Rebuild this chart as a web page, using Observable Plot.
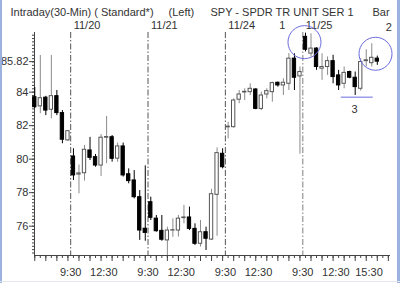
<!DOCTYPE html>
<html>
<head>
<meta charset="utf-8">
<script src="https://cdn.jsdelivr.net/npm/d3@7"></script>
<script src="https://cdn.jsdelivr.net/npm/@observablehq/plot@0.6"></script>
<style>
  html, body { margin: 0; padding: 0; background: #fff; }
  #wrap { position: relative; width: 400px; height: 283px; overflow: hidden; }
  #wrap svg { display: block; }
  #wrap .bl { position: absolute; left: 0; top: 0; bottom: 0; width: 2px; background: #9cb2de; }
  #wrap .br { position: absolute; right: 0; top: 0; bottom: 0; width: 3px; background: #9cb2de; }
  #wrap .bb { position: absolute; left: 0; right: 0; bottom: 1px; height: 1px; background: #e3e6ec; }
</style>
</head>
<body>
<div id="wrap"><div class="bl"></div><div class="br"></div><div class="bb"></div></div>
<script>
// ---- data (30-min bars, SPY) ----
const opens  = [83.70,83.15,83.67,82.95,83.76,82.75,81.12,
  80.16,79.08,79.16,80.52,80.12,79.62,81.28,81.31,80.03,80.76,79.10,78.73,77.73,75.85,
  77.43,76.45,75.72,75.15,75.74,75.74,76.48,76.52,75.84,74.95,75.64,75.20,77.87,80.32,
  81.90,81.91,83.55,83.98,84.00,84.16,83.00,83.86,84.00,84.56,84.40,84.50,86.00,84.94,
  87.30,86.30,86.60,85.40,85.50,85.85,85.00,84.50,85.20,84.86,84.20,85.85,85.73,86.00];
const highs  = [84.28,86.19,83.75,86.19,84.10,82.90,81.72,
  80.62,79.65,80.82,81.30,80.28,81.47,82.55,81.41,80.96,80.96,79.42,79.32,78.13,79.60,
  77.73,76.64,76.64,75.94,76.44,76.64,77.24,77.14,76.14,76.34,75.94,78.20,80.67,80.62,
  82.20,83.60,84.10,84.20,84.50,84.20,84.00,84.20,84.60,84.60,84.80,86.30,86.29,85.50,
  87.52,87.48,86.65,86.29,86.10,86.20,85.30,85.50,85.25,85.20,86.00,86.53,86.89,86.15];
const lows   = [83.03,82.71,82.60,82.41,82.60,80.92,81.05,
  78.72,77.93,78.69,79.92,79.52,78.97,79.73,79.82,79.82,78.93,78.53,77.63,75.15,75.10,
  76.34,75.64,75.10,74.25,75.34,75.35,76.14,75.74,74.85,74.75,74.55,75.14,75.40,79.42,
  81.21,81.85,83.31,83.50,83.80,82.95,82.90,83.60,83.40,84.30,83.80,84.10,84.10,80.30,
  86.40,86.10,85.30,84.70,85.00,84.50,84.10,84.20,84.80,83.80,84.06,85.50,85.50,85.60];
const closes = [83.10,83.64,82.90,83.76,82.75,81.16,81.67,
  79.03,79.15,80.56,80.08,79.62,81.28,81.32,80.02,80.76,79.03,78.69,77.73,75.74,75.60,
  76.50,75.70,75.19,75.74,75.76,76.45,76.52,75.84,74.95,75.64,75.25,77.91,80.36,79.52,
  81.94,83.50,83.86,84.02,84.20,83.00,83.80,84.06,84.54,84.40,84.56,86.00,84.86,85.20,
  86.53,86.60,85.50,85.50,85.85,84.90,84.40,85.15,84.86,84.30,85.80,85.90,86.05,85.82];

// first bar index of each new session (9:30 bar)
const dayStart  = [7, 21, 35, 49];
const dayLabels = ["11/20", "11/21", "11/24", "11/25"];
// time labels: bar index and text
const timeLabelBars = [7, 13, 21, 27, 35, 41, 49, 55, 61];
const timeLabelText = ["9:30","12:30","9:30","12:30","9:30","12:30","9:30","12:30","15:30"];
const yLabelValues = [76, 78, 80, 82, 84, 85.82];

// annotations (data coordinates: bar index, price)
const circleBars   = [48.82, 61.68];
const circlePrices = [86.985, 86.29];
const noteText   = ["1", "2", "3"];
const noteBars   = [44.79, 64.08, 57.87];
const notePrices = [87.98, 87.88, 82.97];
const supportPrice = 83.70;
const supportFrom = 55.47, supportTo = 61.26;

// ---- derived ----
const idx = d3.range(opens.length);
const xDomain = [-0.05, 64.39];
const yDomain = [74.25, 87.56];
const seps = dayStart.map(k => k - 0.5);
const yMinor = d3.range(74.4, 87.5, 0.2);
const xMinor = d3.range(0, 65, 1);
const xMajor = xMinor.filter(k => k % 2 === 0);
const up = i => closes[i] >= opens[i];
const ink = "#333";
const blue = "#6b6bde";

const chart = Plot.plot({
  width: 400,
  height: 283,
  marginLeft: 34, marginRight: 10, marginTop: 32, marginBottom: 28,
  x: {domain: xDomain},
  y: {domain: yDomain},
  style: {fontFamily: "'Liberation Sans', Arial, sans-serif", fontSize: "11px", color: ink, background: "transparent", overflow: "visible"},
  marks: [
    // session separators
    Plot.ruleX(seps, {x: d => d, stroke: (d, i) => i === seps.length - 1 ? "#a8a8a8" : "#555",
      strokeWidth: (d, i) => i === seps.length - 1 ? 1.5 : 1, strokeDasharray: "6,2,1.5,2"}),
    // axes lines
    Plot.ruleX([xDomain[0]], {stroke: "#444"}),
    Plot.ruleY([yDomain[0]], {stroke: "#444"}),
    // y ticks
    Plot.axisY({ticks: yMinor, tickSize: 2, tickFormat: () => "", label: null, stroke: "#444"}),
    Plot.axisY({ticks: yLabelValues, tickSize: 5, tickPadding: 1, label: null, stroke: "#444",
      tickFormat: d => String(d), fill: ink}),
    // x ticks
    Plot.axisX({ticks: xMinor, tickSize: 3, tickFormat: () => "", label: null, stroke: "#444"}),
    Plot.axisX({ticks: xMajor, tickSize: 6, tickFormat: () => "", label: null, stroke: "#444"}),
    Plot.text(timeLabelBars, {x: k => k - 0.5, text: (k, i) => timeLabelText[i], frameAnchor: "bottom", dy: 20, fill: ink}),
    // day labels
    Plot.text(dayStart, {x: k => k - 0.5, text: (k, i) => dayLabels[i], frameAnchor: "top", dy: -11.5, dx: 3, textAnchor: "start", fill: ink}),
    // wicks
    Plot.ruleX(idx, {x: i => i, y1: i => lows[i], y2: i => highs[i], stroke: i => up(i) ? "#8a8a8a" : "#000"}),
    // bodies
    Plot.rect(idx, {x1: i => i - 0.3, x2: i => i + 0.3, y1: i => opens[i], y2: i => closes[i],
      fill: i => up(i) ? "#fff" : "#000", stroke: i => up(i) ? "#555" : "#000", strokeWidth: 1}),
    // annotations
    Plot.dot(circleBars, {x: d => d, y: (d, i) => circlePrices[i], r: 16.5, stroke: blue, fill: "none", strokeWidth: 1}),
    Plot.ruleY([supportPrice], {x1: supportFrom, x2: supportTo, stroke: blue, strokeWidth: 1}),
    Plot.text(noteBars, {x: d => d, y: (d, i) => notePrices[i], text: (d, i) => noteText[i], fill: ink}),
    // titles
    Plot.text(["Intraday(30-Min) ( Standard*)"], {frameAnchor: "top-left", dx: -24, dy: -24.5, textAnchor: "start", fill: ink}),
    Plot.text(["(Left)"], {frameAnchor: "top-left", dx: 134, dy: -24.5, textAnchor: "start", fill: ink}),
    Plot.text(["SPY - SPDR TR UNIT SER 1"], {frameAnchor: "top-left", dx: 176, dy: -24.5, textAnchor: "start", fill: ink}),
    Plot.text(["Bar"], {frameAnchor: "top-left", dx: 338, dy: -24.5, textAnchor: "start", fill: ink})
  ]
});
document.getElementById("wrap").prepend(chart);
</script>
</body>
</html>
